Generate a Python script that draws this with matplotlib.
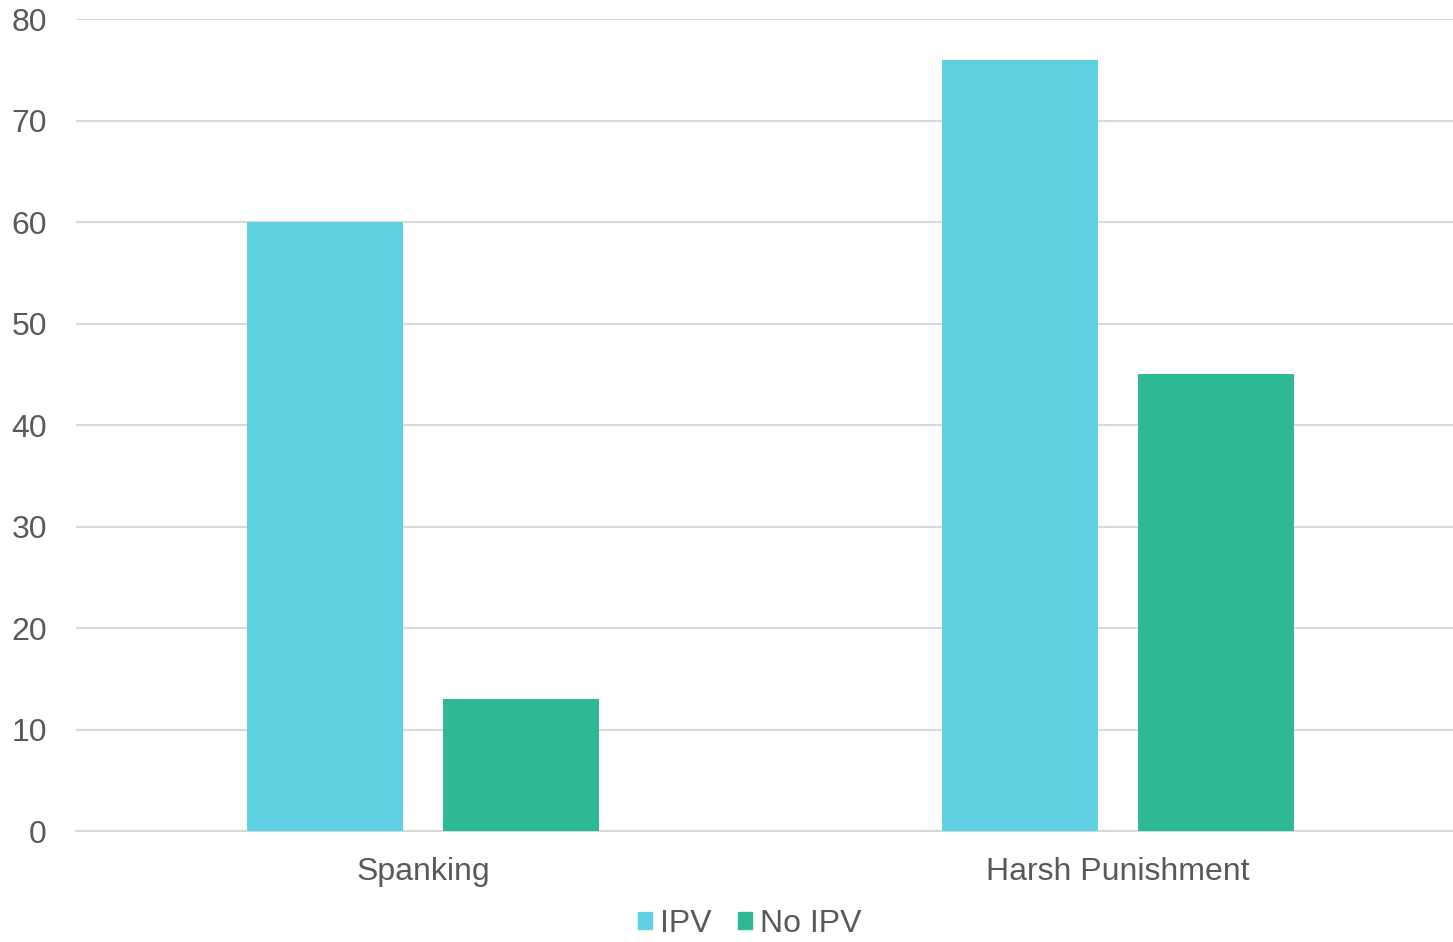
import matplotlib
matplotlib.use("Agg")
import matplotlib.pyplot as plt
import numpy as np
from matplotlib.patches import Patch

categorias = ["Spanking", "Harsh Punishment"]
series = ["IPV", "No IPV"]
valores_ipv = [60, 76]
valores_no_ipv = [13, 45]
colores = ["#5FD1E2", "#2EB995"]

plt.rcParams["font.family"] = ["Liberation Sans", "DejaVu Sans"]
gris = "#595959"

fig = plt.figure(figsize=(14.53, 9.42), dpi=100)
ax = fig.add_axes([0.0523, 0.1178, 0.956, 0.862])

x = np.arange(len(categorias))
ancho = 0.2246
ax.bar(x - 0.141, valores_ipv, ancho, color=colores[0], zorder=3)
ax.bar(x + 0.141, valores_no_ipv, ancho, color=colores[1], zorder=3)

ax.set_xlim(-0.5, 1.5)
ax.set_ylim(0, 80)
ax.set_yticks(range(0, 81, 10))
ax.set_xticks(x)
ax.set_xticklabels(categorias)
ax.grid(axis="y", color="#d9d9d9", linewidth=1.5, zorder=0)
for s in ["top", "right", "left"]:
    ax.spines[s].set_visible(False)
ax.spines["bottom"].set_color("#d9d9d9")
ax.spines["bottom"].set_linewidth(1.5)
ax.tick_params(axis="both", length=0, labelsize=23, colors=gris)
ax.tick_params(axis="x", pad=19)
ax.tick_params(axis="y", pad=21)

handles = [Patch(color=c, label=s) for c, s in zip(colores, series)]
fig.legend(handles=handles, loc="lower center", bbox_to_anchor=(0.516, -0.027), ncol=2,
           frameon=False, fontsize=23, labelcolor=gris, handlelength=0.45, handleheight=0.45,
           handletextpad=0.25, columnspacing=0.8)

fig.savefig("out.png", dpi=100)
